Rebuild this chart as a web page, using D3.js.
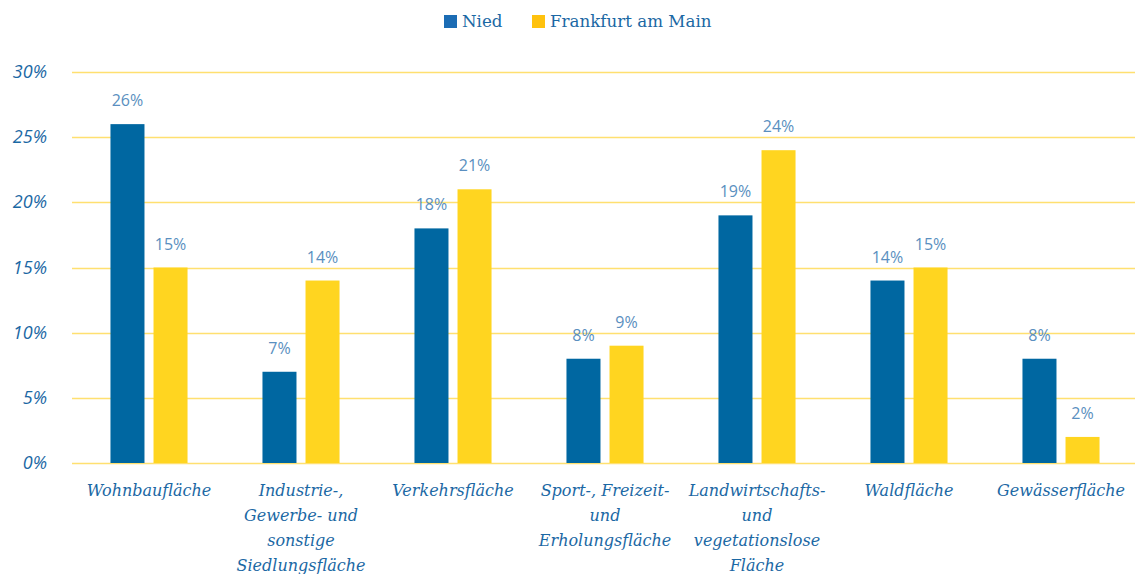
<!DOCTYPE html>
<html><head><meta charset="utf-8">
<script src="https://cdn.jsdelivr.net/npm/d3@7"></script>
<style>body{margin:0;background:#fff}svg{display:block}</style>
</head><body>
<script>
const categories = [
  ["Wohnbaufläche"],
  ["Industrie-,","Gewerbe- und","sonstige","Siedlungsfläche"],
  ["Verkehrsfläche"],
  ["Sport-, Freizeit-","und","Erholungsfläche"],
  ["Landwirtschafts-","und","vegetationslose","Fläche"],
  ["Waldfläche"],
  ["Gewässerfläche"]
];
const seriesNames = ["Nied","Frankfurt am Main"];
const nied = [26,7,18,8,19,14,8];
const frankfurt = [15,14,21,9,24,15,2];
const yTicks = [0,5,10,15,20,25,30];
const colors = ["#0067A1","#FFD520"];

const W=1135,H=574;
const svg=d3.select("body").append("svg").attr("width",W).attr("height",H);
const x0=d3.scaleBand().domain(d3.range(categories.length)).range([73,1137]).paddingInner(0.493).paddingOuter(0.2465);
const x1=d3.scaleBand().domain(seriesNames).range([0,x0.bandwidth()]).paddingInner(0.21);
const y=d3.scaleLinear().domain([0,30]).range([463,72]);

// grid
svg.append("g").selectAll("line").data(yTicks).join("line")
  .attr("x1",72).attr("x2",W).attr("y1",d=>Math.round(y(d))+0.5).attr("y2",d=>Math.round(y(d))+0.5)
  .attr("stroke","#FFE070").attr("stroke-width",1.3);
// y labels
svg.append("g").selectAll("text").data(yTicks).join("text")
  .attr("x",47).attr("y",d=>y(d)+6).attr("text-anchor","end")
  .attr("font-family","Open Sans").attr("font-style","italic").attr("font-weight",500).attr("font-size",18)
  .attr("fill","#1B68A4").text(d=>d+"%");

const data=[nied,frankfurt];
data.forEach((vals,si)=>{
  const g=svg.append("g");
  g.selectAll("rect").data(vals).join("rect")
    .attr("x",(d,i)=>x0(i)+x1(seriesNames[si])).attr("width",x1.bandwidth())
    .attr("y",d=>y(d)).attr("height",d=>y(0)-y(d))
    .attr("fill",colors[si]);
  g.selectAll("text").data(vals).join("text")
    .attr("x",(d,i)=>x0(i)+x1(seriesNames[si])+x1.bandwidth()/2)
    .attr("y",d=>y(d)-18).attr("text-anchor","middle")
    .attr("font-family","Open Sans").attr("font-weight",400).attr("font-size",16)
    .attr("fill","#5A8FC0").text(d=>d+"%");
});

// x labels
const xl=svg.append("g");
categories.forEach((lines,i)=>{
  const t=xl.append("text").attr("text-anchor","middle")
    .attr("font-family","DejaVu Serif").attr("font-style","italic").attr("font-size",16)
    .attr("fill","#1B68A4");
  lines.forEach((l,j)=>t.append("tspan").attr("x",x0(i)+x0.bandwidth()/2).attr("y",496+j*25).text(l));
});

// legend
const leg=svg.append("g");
const legX=[444,532];
seriesNames.forEach((n,i)=>{
  leg.append("rect").attr("x",legX[i]).attr("y",15).attr("width",13).attr("height",13).attr("fill",i==0?"#1B6CB4":"#FFC20E");
  leg.append("text").attr("x",legX[i]+18).attr("y",27).attr("font-family","DejaVu Serif").attr("font-size",16.7)
    .attr("fill","#1B68A4").text(n);
});
</script>
</body></html>
